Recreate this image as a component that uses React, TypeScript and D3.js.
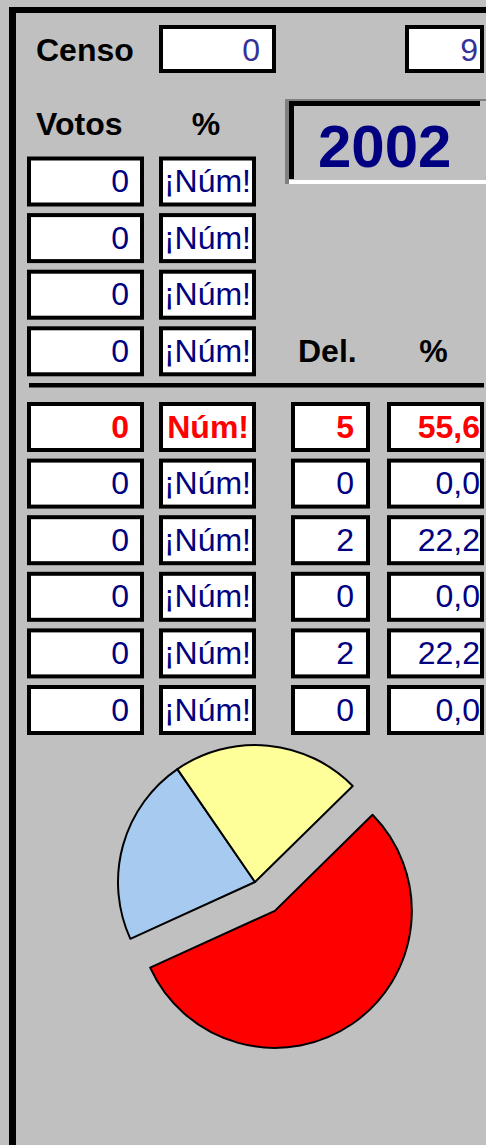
import React from 'react';
import * as d3 from 'd3';

// ---- data ----
const censoValues = ['0', '9'];
const year = '2002';
const upperVotos = [0, 0, 0, 0];
const upperPct = ['¡Núm!', '¡Núm!', '¡Núm!', '¡Núm!'];
const lowerVotos = [0, 0, 0, 0, 0, 0];
const lowerPct = ['Núm!', '¡Núm!', '¡Núm!', '¡Núm!', '¡Núm!', '¡Núm!'];
const delegates = [5, 0, 2, 0, 2, 0];
const delegatePct = [55.6, 0.0, 22.2, 0.0, 22.2, 0.0];
const partyColors = ['#FF0000', '#9999FF', '#A6CAF0', '#FF9900', '#FFFF99', '#CC99FF'];
const highlightRow = 0;

const W = 486;
const H = 1145;
const FONT = '"Liberation Sans", Arial, Helvetica, sans-serif';
const NAVY = '#000080';

const fmtPct = (v: number) => d3.format('.1f')(v).replace('.', ',');

function Box({ x, y, w, h, text, tx, color, bold }: any) {
  return (
    <g>
      <rect x={x + 2} y={y + 2} width={w - 4} height={h - 4} fill="#FFFFFF" stroke="#000" strokeWidth={4} />
      <text x={tx} y={y + 35.5} textAnchor="end" fontFamily={FONT} fontSize={32}
        fontWeight={bold ? 'bold' : 'normal'} fill={color}>{text}</text>
    </g>
  );
}

export default function App() {
  const yUpper = d3.scaleLinear().domain([0, 1]).range([156.5, 213.1]);
  const yLower = d3.scaleLinear().domain([0, 1]).range([402, 458.6]);
  const boxH = 50;
  const cols = {
    votos: { x: 27, w: 117, tx: 129 },
    pct: { x: 159, w: 97, tx: 251 },
    del: { x: 291, w: 79, tx: 354 },
    dpct: { x: 387, w: 97, tx: 480 },
  };

  // pie
  const cx = 255, cy = 882, r = 137, explode = 35;
  const startDeg = 45.5;
  const pie = d3.pie<number>().sort(null).value((d) => d)
    .startAngle((startDeg * Math.PI) / 180)
    .endAngle((startDeg * Math.PI) / 180 + 2 * Math.PI);
  const arcs = pie(delegates);
  const arcGen = d3.arc<d3.PieArcDatum<number>>().innerRadius(0).outerRadius(r);

  return (
    <svg width={W} height={H} style={{ position: 'absolute', left: 0, top: 0, display: 'block' }}>
      <rect x={0} y={0} width={W} height={H} fill="#C0C0C0" />
      {/* outer frame */}
      <rect x={9} y={7} width={W - 9} height={6} fill="#000" />
      <rect x={9} y={7} width={7} height={H - 7} fill="#000" />

      {/* Censo */}
      <text x={36} y={61} fontFamily={FONT} fontSize={32} fontWeight="bold" fill="#000">Censo</text>
      <Box x={159} y={25} w={117} h={48} text={censoValues[0]} tx={260} color="#333399" />
      <Box x={405} y={25} w={79} h={48} text={censoValues[1]} tx={478} color="#333399" />

      {/* year box */}
      <rect x={285} y={99} width={4} height={85} fill="#808080" />
      <rect x={285} y={99} width={W - 285} height={2} fill="#808080" />
      <rect x={289} y={101} width={5} height={78} fill="#000" />
      <rect x={289} y={101} width={191} height={5} fill="#000" />
      <rect x={289} y={180} width={W - 289} height={4} fill="#FFFFFF" />
      <text x={318} y={167} fontFamily={FONT} fontSize={60} fontWeight="bold" fill={NAVY}>{year}</text>

      {/* headers */}
      <text x={36} y={135} fontFamily={FONT} fontSize={32} fontWeight="bold" fill="#000">Votos</text>
      <text x={206} y={135} textAnchor="middle" fontFamily={FONT} fontSize={32} fontWeight="bold" fill="#000">%</text>
      <text x={298} y={362} fontFamily={FONT} fontSize={32} fontWeight="bold" fill="#000">Del.</text>
      <text x={433.5} y={362} textAnchor="middle" fontFamily={FONT} fontSize={32} fontWeight="bold" fill="#000">%</text>

      {/* upper rows */}
      {upperVotos.map((v, i) => (
        <g key={'u' + i}>
          <Box x={cols.votos.x} y={yUpper(i)} w={cols.votos.w} h={boxH} text={String(v)} tx={cols.votos.tx} color={NAVY} />
          <Box x={cols.pct.x} y={yUpper(i)} w={cols.pct.w} h={boxH} text={upperPct[i]} tx={cols.pct.tx} color={NAVY} />
        </g>
      ))}

      {/* separator */}
      <rect x={29} y={383} width={455} height={4.5} fill="#000" />

      {/* lower rows */}
      {lowerVotos.map((v, i) => {
        const hl = i === highlightRow;
        const c = hl ? '#FF0000' : NAVY;
        const y = yLower(i);
        return (
          <g key={'l' + i}>
            <Box x={cols.votos.x} y={y} w={cols.votos.w} h={boxH} text={String(v)} tx={cols.votos.tx} color={c} bold={hl} />
            <Box x={cols.pct.x} y={y} w={cols.pct.w} h={boxH} text={lowerPct[i]} tx={hl ? 249 : cols.pct.tx} color={c} bold={hl} />
            <Box x={cols.del.x} y={y} w={cols.del.w} h={boxH} text={String(delegates[i])} tx={cols.del.tx} color={c} bold={hl} />
            <Box x={cols.dpct.x} y={y} w={cols.dpct.w} h={boxH} text={fmtPct(delegatePct[i])} tx={cols.dpct.tx} color={c} bold={hl} />
          </g>
        );
      })}

      {/* pie */}
      <g transform={`translate(${cx},${cy})`}>
        {arcs.map((a, i) => {
          if (a.value === 0) return null;
          const mid = (a.startAngle + a.endAngle) / 2;
          const off = i === highlightRow ? explode : 0;
          const dx = Math.sin(mid) * off;
          const dy = -Math.cos(mid) * off;
          return (
            <path key={'p' + i} d={arcGen(a) || ''} transform={`translate(${dx},${dy})`}
              fill={partyColors[i]} stroke="#000" strokeWidth={2} strokeLinejoin="round" />
          );
        })}
      </g>
    </svg>
  );
}
